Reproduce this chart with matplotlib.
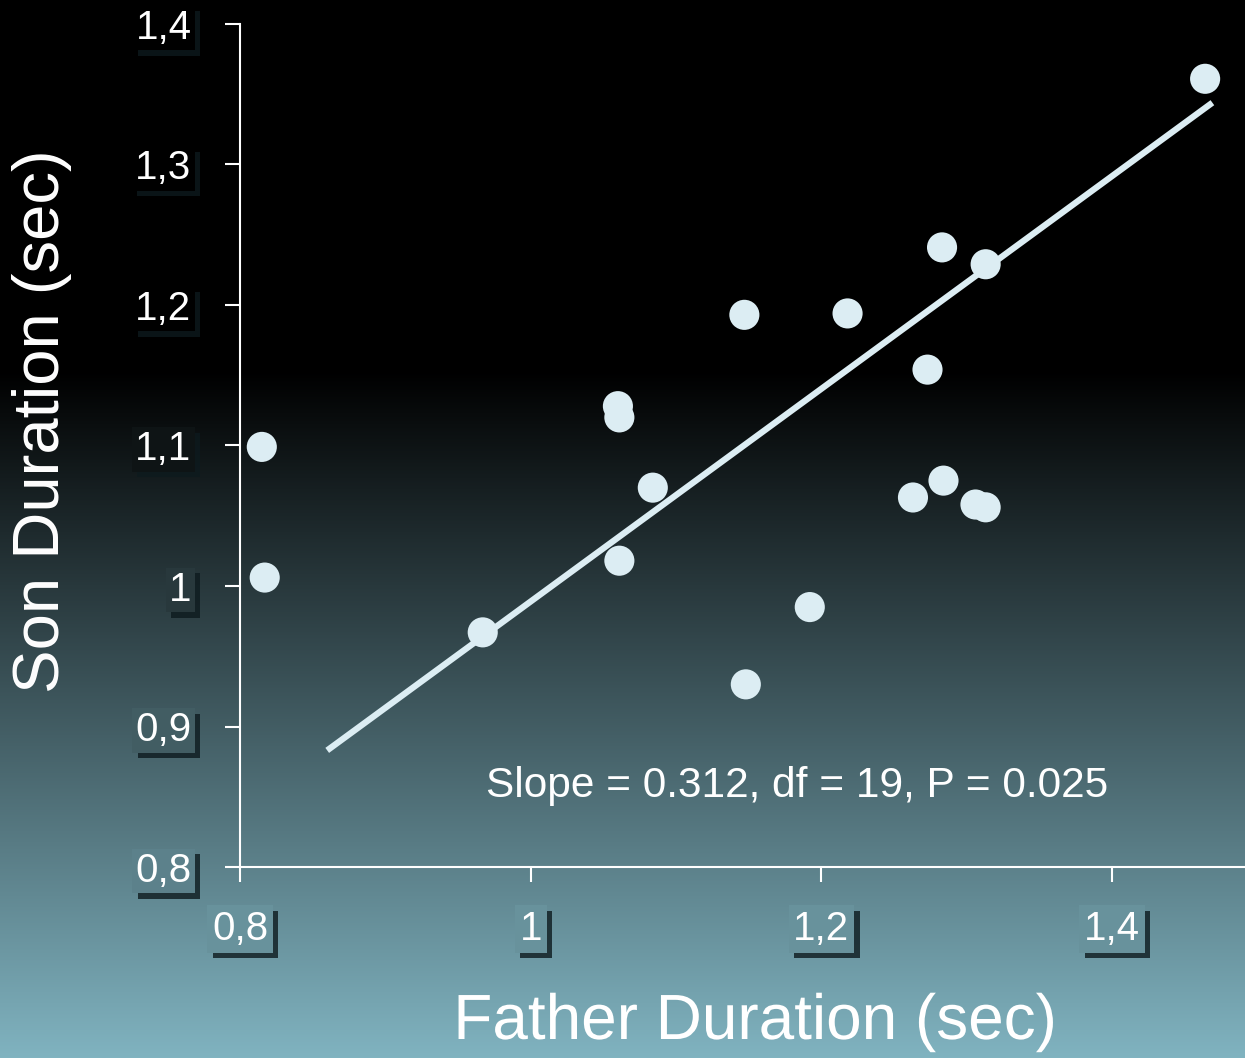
import matplotlib

matplotlib.use("Agg")
import matplotlib.pyplot as plt
import matplotlib.patheffects as pe
import numpy as np

# data
father = [0.815, 0.817, 0.967, 1.060, 1.061, 1.084, 1.061, 1.147, 1.148, 1.192,
          1.218, 1.283, 1.273, 1.263, 1.284, 1.306, 1.313, 1.313, 1.464]
son = [1.099, 1.006, 0.967, 1.128, 1.120, 1.070, 1.018, 1.193, 0.930, 0.985,
       1.194, 1.241, 1.154, 1.063, 1.075, 1.058, 1.056, 1.229, 1.361]
fit_x = [0.860, 1.469]
fit_y = [0.883, 1.344]
xticks = [0.8, 1.0, 1.2, 1.4]
xtick_labels = ["0,8", "1", "1,2", "1,4"]
yticks = [0.8, 0.9, 1.0, 1.1, 1.2, 1.3, 1.4]
ytick_labels = ["0,8", "0,9", "1", "1,1", "1,2", "1,3", "1,4"]

W, H = 1245, 1058
FG = "#dcedf3"
BOTTOM = np.array([0x80, 0xb3, 0xc0]) / 255.0
FADE_START = 0.35   # fraction of height (from top) where black starts to fade


def bg_color(frac_from_top):
    t = np.clip((frac_from_top - FADE_START) / (1 - FADE_START), 0, 1)
    return tuple(BOTTOM * t)


plt.rcParams.update({"font.family": ["Liberation Sans", "DejaVu Sans"]})
fig = plt.figure(figsize=(W / 100, H / 100), dpi=100)

# background gradient
bg = fig.add_axes([0, 0, 1, 1], zorder=0)
rows = np.linspace(0, 1, 400)
grad = np.array([bg_color(r) for r in rows])[:, None, :]
bg.imshow(grad, aspect="auto", extent=[0, 1, 1, 0])
bg.axis("off")

left, bottom = 240 / W, (H - 867) / H
ax = fig.add_axes([left, bottom, 1 - left, (867 - 24) / H], zorder=1)
ax.patch.set_alpha(0)
ax.set_xlim(0.8, 0.8 + (W - 240) / 1453.5)
ax.set_ylim(0.8, 1.4)

ax.plot(fit_x, fit_y, color=FG, lw=4.5, solid_capstyle="butt", zorder=2)
ax.scatter(father, son, s=470, color=FG, edgecolors="none", zorder=3, clip_on=False)

for s in ["top", "right"]:
    ax.spines[s].set_visible(False)
for s in ["left", "bottom"]:
    ax.spines[s].set_color("white")
    ax.spines[s].set_linewidth(1.5)

ax.set_xticks(xticks, xtick_labels)
ax.set_yticks(yticks, ytick_labels)
ax.tick_params(colors="white", length=11, width=1.5, direction="out",
               labelsize=29, labelcolor="white")
ax.tick_params(axis="x", pad=20)
ax.tick_params(axis="y", pad=24)

shadow = [pe.SimplePatchShadow(offset=(4, -4), shadow_rgbFace="#0d1a1e", alpha=0.8),
          pe.Normal()]
for lab, v in zip(ax.get_yticklabels(), yticks):
    frac = (867 - (v - 0.8) * 1405) / H
    lab.set_bbox(dict(boxstyle="square,pad=0.08", fc=bg_color(frac), ec="none"))
    lab.get_bbox_patch().set_path_effects(shadow)
for lab in ax.get_xticklabels():
    lab.set_bbox(dict(boxstyle="square,pad=0.12", fc=bg_color(930 / H), ec="none"))
    lab.get_bbox_patch().set_path_effects(shadow)

ax.text(1.183, 0.858, "Slope = 0.312, df = 19, P = 0.025", ha="center", va="center",
        fontsize=30.5, color="white")

fig.text(755 / W, 1 - 1022 / H, "Father Duration (sec)", ha="center", va="center",
         fontsize=46, color="white",
         path_effects=[pe.SimpleLineShadow(offset=(2, -2), shadow_color="#1a2c30"),
                       pe.Normal()])
fig.text(42 / W, 1 - 421 / H, "Son Duration (sec)", ha="center", va="center",
         rotation=90, fontsize=47, color="white")

fig.savefig("out.png", dpi=100)
